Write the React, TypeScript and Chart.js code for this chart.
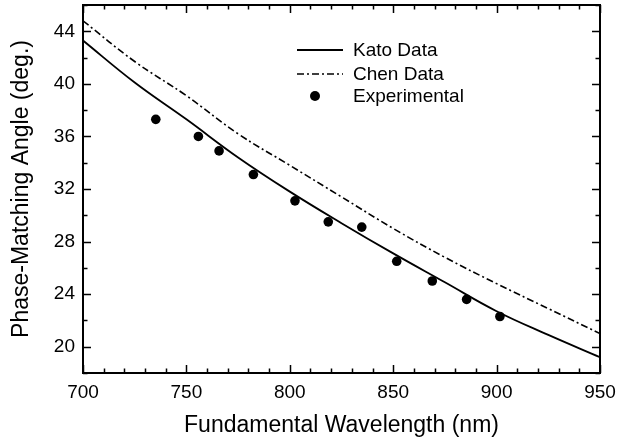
import React, { useEffect, useRef } from "react";
import { Chart, registerables } from "chart.js";

Chart.register(...registerables);

// ---- data ----
const curveWavelengths = [700, 725, 750, 775, 800, 825, 850, 875, 900, 925, 950];
const katoAngles = [43.3, 40.1, 37.3, 34.4, 31.8, 29.4, 27.1, 24.9, 22.7, 20.9, 19.2];
const chenAngles = [44.8, 41.7, 39.1, 36.2, 33.8, 31.4, 29.0, 26.8, 24.8, 22.9, 21.0];
const expWavelengths = [735.2, 755.8, 765.8, 782.4, 802.5, 818.6, 834.8, 851.7, 868.9, 885.5, 901.6];
const expAngles = [37.3, 36.0, 34.9, 33.1, 31.1, 29.5, 29.1, 26.5, 25.0, 23.6, 22.3];
const seriesLabels = ["Kato Data", "Chen Data", "Experimental"];
const xMajorTicks = [700, 750, 800, 850, 900, 950];
const yMajorTicks = [20, 24, 28, 32, 36, 40, 44];
const xMinorTicks = [710, 720, 730, 740, 760, 770, 780, 790, 810, 820, 830, 840, 860, 870, 880, 890, 910, 920, 930, 940];
const yMinorTicks = [18, 22, 26, 30, 34, 38, 42, 46];
const xTitle = "Fundamental Wavelength (nm)";
const yTitle = "Phase-Matching Angle (deg.)";

const FONT = "'Liberation Sans', Arial, Helvetica, sans-serif";
const CHEN_DASH = [7, 3, 2, 3];

const framePlugin = {
  id: "frameTicks",
  afterDatasetsDraw(chart: any) {
    const { ctx, chartArea } = chart;
    const { left, right, top, bottom } = chartArea;
    const xs = chart.scales.x;
    const ys = chart.scales.y;
    ctx.save();
    ctx.strokeStyle = "#000";
    ctx.lineWidth = 1.5;
    const major = 8;
    const minor = 4.5;
    const drawX = (v: number, len: number) => {
      const px = Math.round(xs.getPixelForValue(v)) + 0.5;
      ctx.beginPath();
      ctx.moveTo(px, bottom);
      ctx.lineTo(px, bottom - len);
      ctx.moveTo(px, top);
      ctx.lineTo(px, top + len);
      ctx.stroke();
    };
    const drawY = (v: number, len: number) => {
      const py = Math.round(ys.getPixelForValue(v)) + 0.5;
      ctx.beginPath();
      ctx.moveTo(left, py);
      ctx.lineTo(left + len, py);
      ctx.moveTo(right, py);
      ctx.lineTo(right - len, py);
      ctx.stroke();
    };
    xMajorTicks.forEach((v) => drawX(v, major));
    xMinorTicks.forEach((v) => drawX(v, minor));
    yMajorTicks.forEach((v) => drawY(v, major));
    yMinorTicks.forEach((v) => drawY(v, minor));
    ctx.lineWidth = 2;
    ctx.strokeRect(left, top, right - left, bottom - top);

    // legend inside the plot
    const ds = chart.data.datasets;
    const lx0 = 297;
    const lx1 = 343;
    const tx = 353;
    const rows = [50, 74, 96];
    ctx.font = `19px ${FONT}`;
    ctx.fillStyle = "#000";
    ctx.textBaseline = "middle";
    ctx.textAlign = "left";
    for (let i = 0; i < ds.length; i++) {
      const d = ds[i];
      const y = rows[i];
      if (d.showLine === false) {
        ctx.beginPath();
        ctx.arc((lx0 + lx1) / 2 - 5, y, 5, 0, Math.PI * 2);
        ctx.fillStyle = "#000";
        ctx.fill();
      } else {
        ctx.beginPath();
        ctx.setLineDash(d.borderDash || []);
        ctx.lineWidth = d.borderWidth;
        ctx.moveTo(lx0, y);
        ctx.lineTo(lx1, y);
        ctx.stroke();
        ctx.setLineDash([]);
      }
      ctx.fillText(d.label, tx, y + 1);
    }
    ctx.restore();
  },
};

export default function App() {
  const ref = useRef<HTMLCanvasElement | null>(null);
  useEffect(() => {
    if (!ref.current) return;
    const chart = new Chart(ref.current, {
      type: "scatter",
      data: {
        datasets: [
          {
            label: seriesLabels[0],
            data: curveWavelengths.map((x, i) => ({ x, y: katoAngles[i] })),
            showLine: true,
            borderColor: "#000",
            borderWidth: 1.8,
            pointRadius: 0,
            tension: 0.4,
          },
          {
            label: seriesLabels[1],
            data: curveWavelengths.map((x, i) => ({ x, y: chenAngles[i] })),
            showLine: true,
            borderColor: "#000",
            borderWidth: 1.6,
            borderDash: CHEN_DASH,
            pointRadius: 0,
            tension: 0.4,
          },
          {
            label: seriesLabels[2],
            data: expWavelengths.map((x, i) => ({ x, y: expAngles[i] })),
            showLine: false,
            backgroundColor: "#000",
            borderWidth: 0,
            pointRadius: 4.8,
          },
        ],
      } as any,
      options: {
        responsive: false,
        animation: false,
        layout: { padding: { top: 5, right: 24, left: 0, bottom: 0 } },
        plugins: { legend: { display: false }, tooltip: { enabled: false } },
        scales: {
          x: {
            type: "linear",
            min: 700,
            max: 950,
            grid: { display: false },
            border: { display: false },
            afterBuildTicks: (s: any) => {
              s.ticks = xMajorTicks.map((value) => ({ value }));
            },
            afterFit: (s: any) => {
              s.height = 71;
              s.paddingLeft = 0;
              s.paddingRight = 0;
            },
            ticks: {
              color: "#000",
              font: { family: FONT, size: 19 },
              padding: 0,
              maxRotation: 0,
            },
            title: {
              display: true,
              text: xTitle,
              color: "#000",
              font: { family: FONT, size: 23 },
              padding: { top: 0, bottom: 5 },
            },
          },
          y: {
            type: "linear",
            min: 18,
            max: 46,
            grid: { display: false },
            border: { display: false },
            afterBuildTicks: (s: any) => {
              s.ticks = yMajorTicks.map((value) => ({ value }));
            },
            afterFit: (s: any) => {
              s.width = 83;
              s.paddingTop = 0;
              s.paddingBottom = 0;
            },
            ticks: {
              color: "#000",
              font: { family: FONT, size: 19 },
              padding: 0,
            },
            title: {
              display: true,
              text: yTitle,
              color: "#000",
              font: { family: FONT, size: 23 },
              padding: { top: 8, bottom: 0 },
            },
          },
        },
      } as any,
      plugins: [framePlugin],
    });
    return () => chart.destroy();
  }, []);

  return (
    <div style={{ position: "fixed", left: 0, top: 0, width: 624, height: 444, background: "#fff" }}>
      <canvas ref={ref} width={624} height={444} style={{ display: "block" }} />
    </div>
  );
}
